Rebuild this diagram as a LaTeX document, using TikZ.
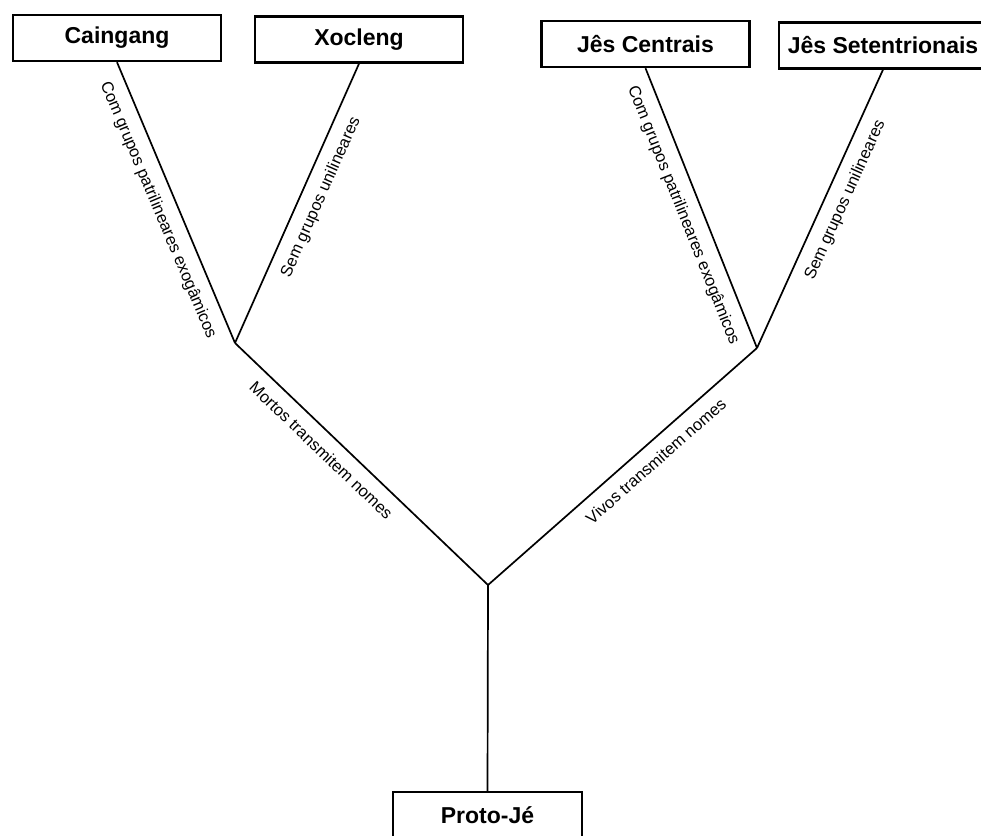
\documentclass[tikz,border=0pt]{standalone}
\usepackage{fontspec}
\setmainfont{Liberation Sans}
\begin{document}
\begin{tikzpicture}[x=1pt,y=-1pt,
  box/.style={draw,line width=2.4pt,minimum width=208pt,minimum height=46pt,inner sep=0pt,font=\bfseries\fontsize{23}{27}\selectfont},
  link/.style={line width=1.7pt},
  lab/.style={font=\fontsize{16.5}{19}\selectfont,inner sep=0pt,sloped,below=11pt}]
\useasboundingbox (0,0) rectangle (981,835);
\node[box] (cai) at (117,38) {Caingang};
\node[box] (xoc) at (359,39.5) {Xocleng};
\node[box] (jc) at (645.5,44) {Jês Centrais};
\node[box] (js) at (883,45.5) {Jês Setentrionais};
\node[box,minimum width=189pt] (pj) at (487.5,815) {Proto-Jé};
\coordinate (l) at (235,343);
\coordinate (r) at (757,348);
\coordinate (b) at (488,585);
\draw[link] (cai.south) -- node[lab,pos=0.5] {Com grupos patrilineares exogâmicos} (l);
\draw[link] (l) -- node[lab,pos=0.55] {Sem grupos unilineares} (xoc.south);
\draw[link] (jc.south) -- node[lab,pos=0.5] {Com grupos patrilineares exogâmicos} (r);
\draw[link] (r) -- node[lab,pos=0.56] {Sem grupos unilineares} (js.south);
\draw[link] (l) -- node[lab,pos=0.39] {Mortos transmitem nomes} (b);
\draw[link] (b) -- node[lab,pos=0.58] {Vivos transmitem nomes} (r);
\draw[link] (b) -- (pj.north);
\end{tikzpicture}
\end{document}
